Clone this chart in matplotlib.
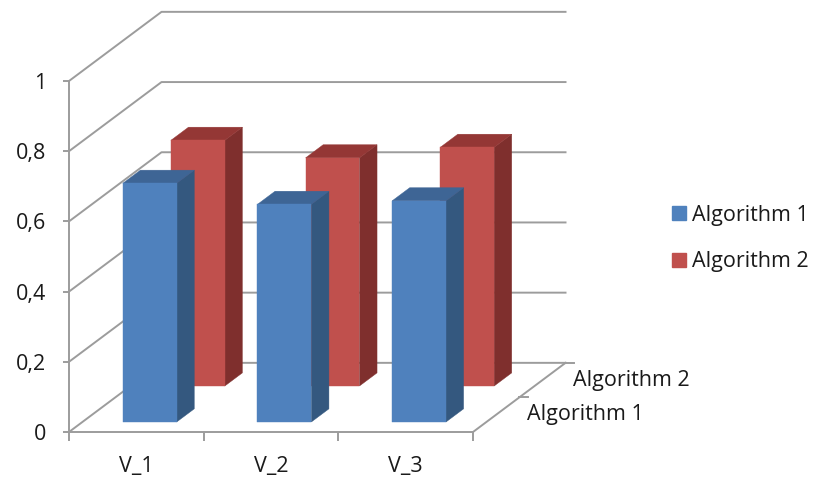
import matplotlib
matplotlib.use("Agg")
import matplotlib.pyplot as plt
from matplotlib.patches import Polygon, Patch

categories = ["V_1", "V_2", "V_3"]
series = ["Algorithm 1", "Algorithm 2"]
alg1 = [0.68, 0.62, 0.63]
alg2 = [0.70, 0.65, 0.68]
yticks = [0, 0.2, 0.4, 0.6, 0.8, 1]
ytick_labels = ["0", "0,2", "0,4", "0,6", "0,8", "1"]

plt.rcParams['font.family'] = ['Open Sans', 'DejaVu Sans']

# oblique projection of the depth axis (in data units)
DX = 0.687   # category units per full depth
DY = 0.197   # value units per full depth
GRID = '#9c9c9c'
TXT = '#1a1a1a'
FS = 15.5

front_cols = ['#4f81bd', '#c0504d']
side_cols = ['#34587f', '#7f2f2d']
top_cols = ['#3e6595', '#943735']
row_depth = [(0.145, 0.335), (0.665, 0.855)]
bar_w = 0.4


def proj(x, v, d):
    return (x + d * DX, v + d * DY)


fig = plt.figure(figsize=(8.14, 4.79), dpi=100)
ax = fig.add_axes([69 / 814, 47 / 479, 404 / 814, 351 / 479])
ax.set_xlim(0, len(categories))
ax.set_ylim(0, 1)
ax.patch.set_visible(False)

n = len(categories)
# back wall, side wall and floor
for v in yticks:
    ax.plot(*zip(proj(0, v, 0), proj(0, v, 1), proj(n, v, 1)),
            color=GRID, lw=1.4, clip_on=False, zorder=1)
ax.plot(*zip(proj(n, 0, 0), proj(n, 0, 1)), color=GRID, lw=1.4, clip_on=False, zorder=1)
for d in [0.5, 1.0]:
    x0, y0 = proj(n, 0, d)
    ax.plot([x0, x0 + 0.065], [y0, y0], color=GRID, lw=1.4, clip_on=False, zorder=1)

# bars: back row first
for k, vals in reversed(list(enumerate([alg1, alg2]))):
    d0, d1 = row_depth[k]
    for i, v in enumerate(vals):
        xa = i + 0.5 - bar_w / 2
        xb = i + 0.5 + bar_w / 2
        front = [proj(xa, 0, d0), proj(xb, 0, d0), proj(xb, v, d0), proj(xa, v, d0)]
        side = [proj(xb, 0, d0), proj(xb, 0, d1), proj(xb, v, d1), proj(xb, v, d0)]
        top = [proj(xa, v, d0), proj(xb, v, d0), proj(xb, v, d1), proj(xa, v, d1)]
        for pts, c in [(side, side_cols[k]), (top, top_cols[k]), (front, front_cols[k])]:
            ax.add_patch(Polygon(pts, closed=True, facecolor=c, edgecolor=c,
                                 lw=0.3, clip_on=False, zorder=3 + (1 - k)))

# depth axis labels
for k, name in enumerate(series):
    dm = (k + 0.5) / 2
    ax.annotate(name, xy=proj(n, 0, dm), xytext=(22, 0), textcoords='offset points',
                ha='left', va='center', fontsize=FS, color=TXT, annotation_clip=False)

# axes styling
for s in ['top', 'right']:
    ax.spines[s].set_visible(False)
for s in ['left', 'bottom']:
    ax.spines[s].set_color(GRID)
    ax.spines[s].set_linewidth(1.4)
    ax.spines[s].set_zorder(2)
ax.set_yticks(yticks)
ax.set_yticklabels(ytick_labels)
ax.tick_params(axis='y', direction='out', length=4.5, width=1.4, color=GRID,
               pad=12, labelsize=FS, labelcolor=TXT)
ax.set_xticks([i + 0.5 for i in range(n)])
ax.set_xticklabels(categories)
ax.set_xticks(range(n + 1), minor=True)
ax.tick_params(axis='x', which='major', length=0, pad=17, labelsize=FS, labelcolor=TXT)
ax.tick_params(axis='x', which='minor', direction='out', length=6.5, width=1.4, color=GRID)

handles = [Patch(facecolor=c, edgecolor=c) for c in front_cols]
fig.legend(handles, series, loc='center left', bbox_to_anchor=(672 / 814, 1 - 238.5 / 479),
           frameon=False, fontsize=FS, handlelength=0.63, handleheight=0.63,
           handletextpad=0.3, labelspacing=1.2, borderpad=0, borderaxespad=0,
           labelcolor=TXT)

fig.savefig("out.png", dpi=100)
